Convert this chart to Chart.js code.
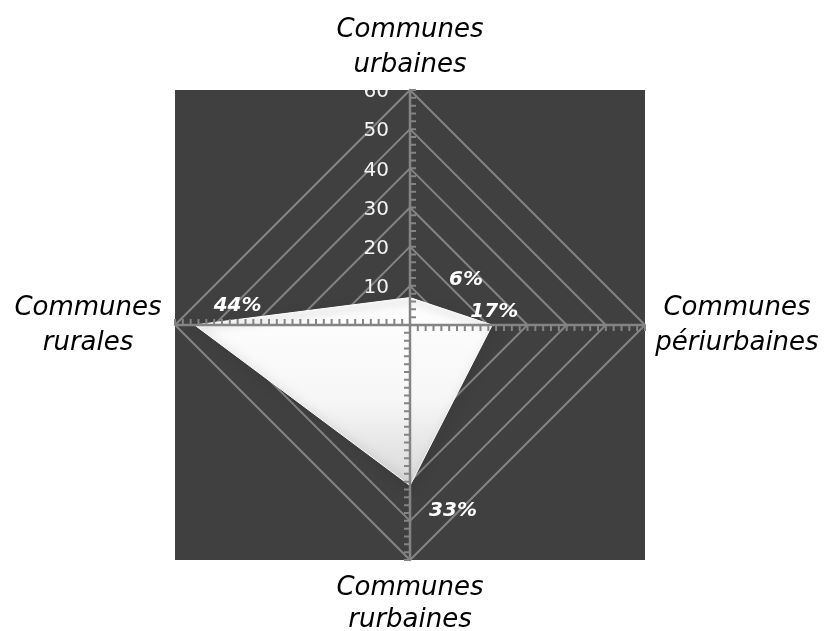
<!DOCTYPE html>
<html lang="fr">
<head>
  <meta charset="UTF-8">
  <title>Communes - radar</title>
  <script src="https://cdn.jsdelivr.net/npm/chart.js"></script>
  <style>
    html,body{margin:0;padding:0;background:#fff;}
    #wrap{width:826px;height:631px;}
  </style>
</head>
<body>
  <div id="wrap"><canvas id="radar"></canvas></div>
  <script>
    /* ——— DATA ——— */
    const categories = [
      ['Communes','urbaines'],
      ['Communes','périurbaines'],
      ['Communes','rurbaines'],
      ['Communes','rurales']
    ];
    const values = [7, 21, 41, 55];
    const valueLabels = ['6%', '17%', '33%', '44%'];
    const tickValues = [10, 20, 30, 40, 50, 60];

    const GRID = '#848484';
    const BG = '#404040';

    /* dark square behind the radar */
    const squareBg = {
      id:'squareBg',
      beforeDraw(chart){
        const s = chart.scales.r, c = chart.ctx, R = s.drawingArea;
        c.save();
        c.fillStyle = BG;
        c.fillRect(s.xCenter - R, s.yCenter - R, 2*R, 2*R);
        c.restore();
      }
    };

    /* category names outside the square, centred like the original */
    const catLabels = {
      id:'catLabels',
      afterDraw(chart){
        const s = chart.scales.r, c = chart.ctx, R = s.drawingArea;
        const x = s.xCenter, y = s.yCenter;
        // [centre x, baseline of first line, line step] per category
        const pos = [
          [x, y - R - 53, 35],
          [x + R + 92, y - 10, 35],
          [x, y + R + 35, 32],
          [x - R - 87, y - 10, 35]
        ];
        c.save();
        c.fillStyle = '#000';
        c.font = 'italic 26px "DejaVu Sans", sans-serif';
        c.textAlign = 'center';
        c.textBaseline = 'alphabetic';
        categories.forEach((lines,i)=>{
          lines.forEach((t,k)=> c.fillText(t, pos[i][0], pos[i][1] + k*pos[i][2]));
        });
        c.restore();
      }
    };

    /* axis lines with minor ticks, tick numbers and % labels on top of the fill */
    const overlay = {
      id:'overlay',
      afterDatasetsDraw(chart){
        const s = chart.scales.r, c = chart.ctx, R = s.drawingArea;
        c.save();
        c.strokeStyle = GRID;
        for(let i=0;i<categories.length;i++){
          const a = s.getIndexAngle(i) - Math.PI/2;
          const p0 = s.getPointPositionForValue(i, 0);
          const p1 = s.getPointPositionForValue(i, s.max);
          c.lineWidth = 2.5;
          c.beginPath();
          c.moveTo(p0.x, p0.y); c.lineTo(p1.x, p1.y);
          c.stroke();
          // minor ticks, clockwise side
          const px = -Math.sin(a), py = Math.cos(a);
          c.lineWidth = 2;
          c.beginPath();
          for(let v=2; v<=s.max; v+=2){
            const p = s.getPointPositionForValue(i, v);
            c.moveTo(p.x, p.y); c.lineTo(p.x + px*6, p.y + py*6);
          }
          c.stroke();
        }

        // tick numbers left of the top axis, clipped to the square
        c.beginPath();
        c.rect(s.xCenter - R, s.yCenter - R, 2*R, 2*R);
        c.clip();
        c.fillStyle = '#f4f4f4';
        c.font = '20px "DejaVu Sans", sans-serif';
        c.textAlign = 'right';
        c.textBaseline = 'middle';
        tickValues.forEach(v=>{
          const p = s.getPointPositionForValue(0, v);
          c.fillText(String(v), p.x - 21, p.y + 2);
        });

        // data labels
        const pts = chart.getDatasetMeta(0).data;
        const offs = [[56,-18],[2,-13],[43,25],[43,-19]];
        c.font = 'italic bold 20px "DejaVu Sans", sans-serif';
        c.textAlign = 'center';
        c.fillStyle = '#ffffff';
        pts.forEach((pt,i)=>{
          c.fillText(valueLabels[i], pt.x + offs[i][0], pt.y + offs[i][1]);
        });
        c.restore();
      }
    };

    /* soft shadow under the white polygon */
    const shadow = {
      id:'shadow',
      beforeDatasetDraw(chart){
        const c = chart.ctx;
        c.save();
        c.shadowColor = 'rgba(0,0,0,0.6)';
        c.shadowBlur = 10;
        c.shadowOffsetX = 3;
        c.shadowOffsetY = 3;
      },
      afterDatasetDraw(chart){ chart.ctx.restore(); }
    };

    function fillGradient(ctx){
      const area = ctx.chart.chartArea;
      if(!area) return '#ffffff';
      const s = ctx.chart.scales.r;
      const g = ctx.chart.ctx.createLinearGradient(0, s.yCenter - 30, 0, s.yCenter + s.drawingArea*0.7);
      g.addColorStop(0, '#ffffff');
      g.addColorStop(0.55, '#f6f6f6');
      g.addColorStop(1, '#d6d6d6');
      return g;
    }

    new Chart(document.getElementById('radar'), {
      type:'radar',
      data:{
        labels:categories,
        datasets:[{
          data:values,
          backgroundColor:fillGradient,
          borderColor:'#ffffff',
          borderWidth:1,
          fill:true,
          tension:0,
          pointRadius:0
        }]
      },
      options:{
        responsive:true,
        maintainAspectRatio:false,
        animation:false,
        plugins:{legend:{display:false}, tooltip:{enabled:false}},
        layout:{padding:{top:90, bottom:71, left:175, right:181}},
        scales:{
          r:{
            min:0, max:60,
            ticks:{stepSize:10, display:false},
            grid:{color:GRID, lineWidth:2},
            angleLines:{display:false},
            pointLabels:{display:false}
          }
        }
      },
      plugins:[squareBg, shadow, overlay, catLabels]
    });
  </script>
</body>
</html>
